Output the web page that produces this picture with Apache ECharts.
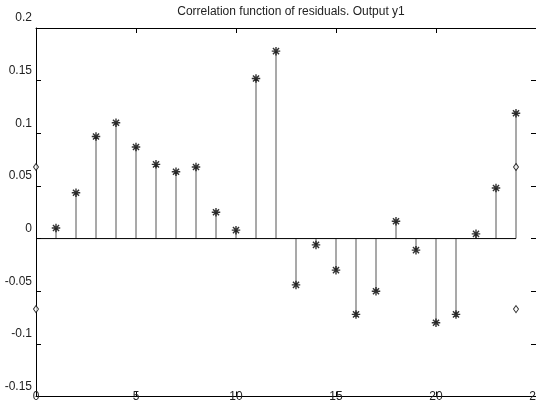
<!DOCTYPE html>
<html>
<head>
<meta charset="utf-8">
<script src="https://cdn.jsdelivr.net/npm/echarts@6/dist/echarts.min.js"></script>
<style>
  html, body { margin: 0; padding: 0; background: #fff; }
  #chart { width: 536px; height: 404px; }
</style>
</head>
<body>
<div id="chart"></div>
<script>
// lags 1..24 and residual autocorrelation
const lags = [1, 2, 3, 4, 5, 6, 7, 8, 9, 10, 11, 12, 13, 14, 15, 16, 17, 18, 19, 20, 21, 22, 23, 24]
const corr = [0.010, 0.0435, 0.097, 0.110, 0.087, 0.0705, 0.0635, 0.068, 0.025, 0.008, 0.152, 0.178,
    -0.044, -0.006, -0.030, -0.072, -0.050, 0.0165, -0.011, -0.080, -0.072, 0.0045, 0.048, 0.119]
// confidence bounds, drawn as diamonds at both ends
const boundLags = [0, 24]
const upperBound = 0.068
const lowerBound = -0.067
const xTicks = [0, 5, 10, 15, 20, 25]
const yTicks = [-0.15, -0.1, -0.05, 0, 0.05, 0.1, 0.15, 0.2]

const starPath = 'path://M0,-5L0,5M-5,0L5,0M-3.6,-3.6L3.6,3.6M-3.6,3.6L3.6,-3.6'
const textColor = '#222'

const stemData = lags.map((l, i) => [l, corr[i]])
const diamondData = []
boundLags.forEach(l => {
    diamondData.push([l, upperBound])
    diamondData.push([l, lowerBound])
})

const xAxisBase = {
    type: 'value',
    min: xTicks[0],
    max: xTicks[xTicks.length - 1],
    interval: 5,
    axisLine: {onZero: false, lineStyle: {color: '#000', width: 1}},
    axisTick: {inside: true, length: 5, lineStyle: {color: '#000'}},
    splitLine: {show: false}
}
const yAxisBase = {
    type: 'value',
    min: yTicks[0],
    max: yTicks[yTicks.length - 1],
    interval: 0.05,
    axisLine: {show: true, onZero: false, lineStyle: {color: '#000', width: 1}},
    axisTick: {show: true, inside: true, length: 5, lineStyle: {color: '#000'}},
    splitLine: {show: false}
}

const option = {
    animation: false,
    backgroundColor: '#fff',
    title: {
        text: 'Correlation function of residuals. Output y1',
        left: 286,
        top: 1,
        textAlign: 'center',
        textStyle: {fontFamily: 'Liberation Sans', fontSize: 12, fontWeight: 'normal', color: textColor}
    },
    grid: {left: 36, right: 0, top: 28, bottom: 7.5, outerBoundsMode: 'none', containLabel: false},
    xAxis: [Object.assign({}, xAxisBase, {
        position: 'bottom',
        axisLabel: {margin: -6, fontFamily: 'Liberation Sans', fontSize: 12, color: textColor}
    }), Object.assign({}, xAxisBase, {
        position: 'top',
        axisLabel: {show: false}
    })],
    yAxis: [Object.assign({}, yAxisBase, {
        position: 'left',
        axisLabel: {margin: 4, verticalAlign: 'bottom', lineHeight: 20, fontFamily: 'Liberation Sans', fontSize: 12, color: textColor}
    }), Object.assign({}, yAxisBase, {
        position: 'right',
        axisLabel: {show: false}
    })],
    series: [{
        type: 'bar',
        data: stemData,
        barWidth: 1,
        itemStyle: {color: '#555'},
        silent: true
    }, {
        type: 'line',
        data: [[0, 0], [24, 0]],
        symbol: 'none',
        lineStyle: {color: '#000', width: 1},
        silent: true
    }, {
        type: 'scatter',
        data: stemData,
        symbol: starPath,
        symbolSize: 8.5,
        itemStyle: {color: 'none', borderColor: '#000', borderWidth: 1.4},
        silent: true
    }, {
        type: 'scatter',
        data: diamondData,
        symbol: 'diamond',
        symbolSize: [5, 7],
        itemStyle: {color: '#fff', borderColor: '#000', borderWidth: 1},
        silent: true
    }]
}

const myChart = echarts.init(document.getElementById('chart'))
myChart.setOption(option)
window.addEventListener('resize', () => {
    myChart.resize()
})
</script>
</body>
</html>
